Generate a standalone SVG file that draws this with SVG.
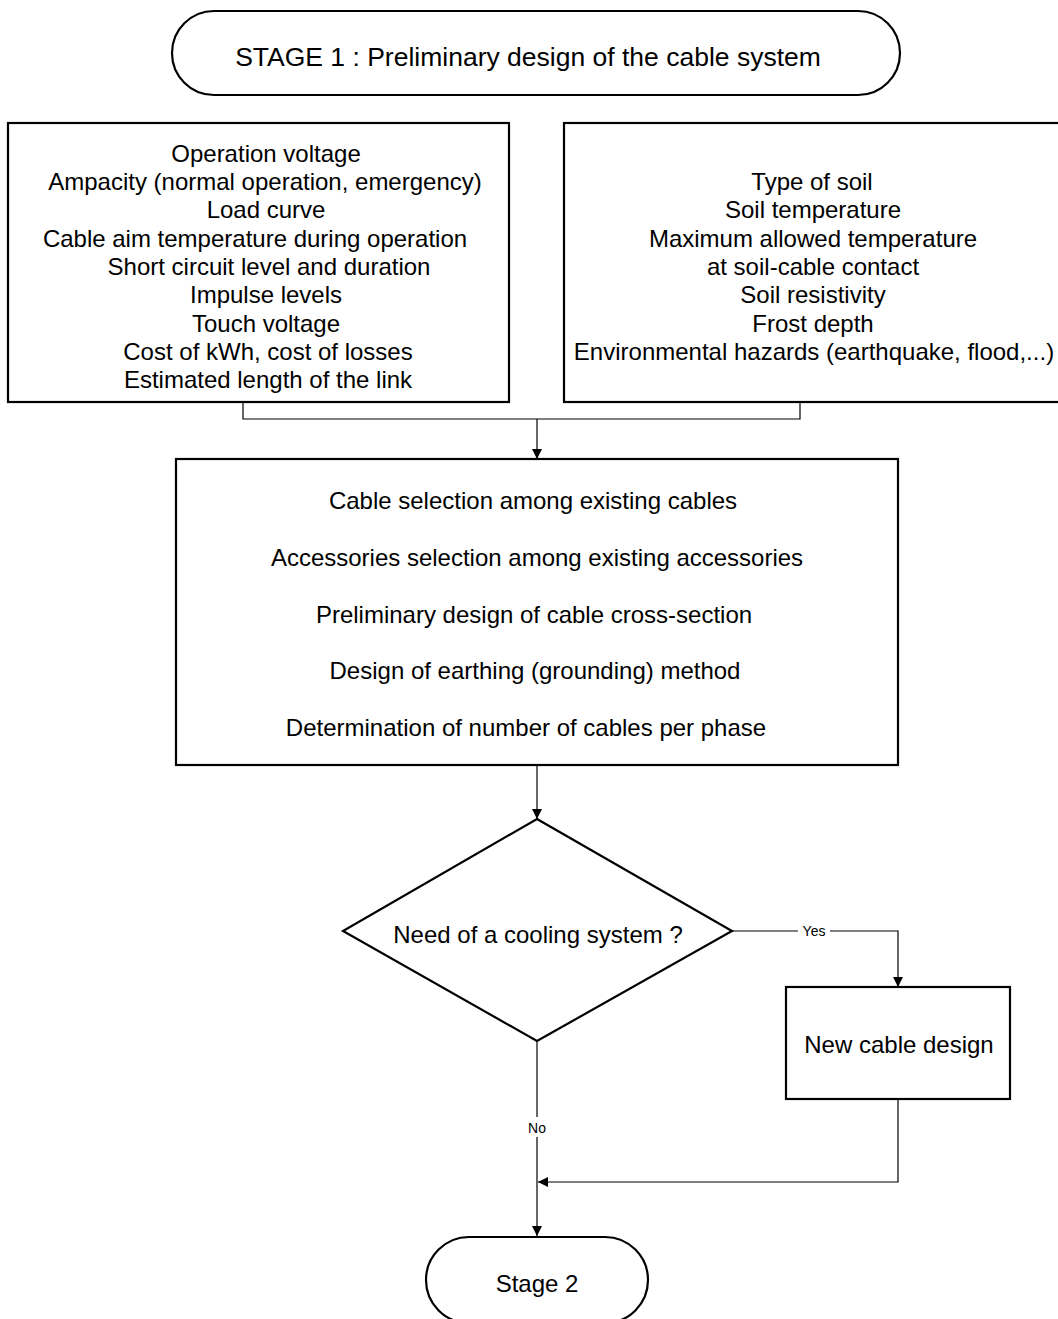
<svg xmlns="http://www.w3.org/2000/svg" width="1058" height="1319" viewBox="0 0 1058 1319">
  <defs>
    <style>
      .shape { fill: #ffffff; stroke: #000000; stroke-width: 2.2; }
      .wire { fill: none; stroke: #000000; stroke-width: 1.2; }
      .txt { font-family: "Liberation Sans", Arial, sans-serif; font-size: 24px; fill: #000000; text-anchor: middle; }
      .title { font-size: 26.5px; }
      .lbl { font-family: "Liberation Sans", Arial, sans-serif; font-size: 14px; fill: #000000; text-anchor: middle; }
    </style>
    <marker id="arrow" viewBox="0 0 10 10" refX="10" refY="5" markerWidth="10" markerHeight="10" markerUnits="userSpaceOnUse" orient="auto">
      <path d="M0,0 L10,5 L0,10 Z" fill="#000000"/>
    </marker>
  </defs>
  <rect width="1058" height="1319" fill="#ffffff"/>

  <!-- connectors -->
  <g id="connectors">
    <polyline class="wire" points="243,402 243,419 800,419 800,402"/>
    <line class="wire" x1="537" y1="419" x2="537" y2="459" marker-end="url(#arrow)"/>
    <line class="wire" x1="537" y1="765" x2="537" y2="819" marker-end="url(#arrow)"/>
    <polyline class="wire" points="732,931 898,931 898,987" marker-end="url(#arrow)"/>
    <rect x="798" y="924" width="32" height="14" fill="#ffffff"/>
    <text class="lbl" x="814" y="936">Yes</text>
    <line class="wire" x1="537" y1="1041" x2="537" y2="1236" marker-end="url(#arrow)"/>
    <rect x="524" y="1117" width="26" height="20" fill="#ffffff"/>
    <text class="lbl" x="537" y="1133">No</text>
    <polyline class="wire" points="898,1099 898,1182 538,1182" marker-end="url(#arrow)"/>
  </g>

  <!-- stage 1 terminator -->
  <g id="stage1">
    <rect class="shape" x="172" y="11" width="728" height="84" rx="42" ry="42"/>
    <text class="txt title" x="528" y="66">STAGE 1 : Preliminary design of the cable system</text>
  </g>

  <!-- electrical input data -->
  <g id="electrical-data">
    <rect class="shape" x="8" y="123" width="501" height="279"/>
    <text class="txt" x="266" y="162">Operation voltage</text>
    <text class="txt" x="265" y="190">Ampacity (normal operation, emergency)</text>
    <text class="txt" x="266" y="218">Load curve</text>
    <text class="txt" x="255" y="247">Cable aim temperature during operation</text>
    <text class="txt" x="269" y="275">Short circuit level and duration</text>
    <text class="txt" x="266" y="303">Impulse levels</text>
    <text class="txt" x="266" y="332">Touch voltage</text>
    <text class="txt" x="268" y="360">Cost of kWh, cost of losses</text>
    <text class="txt" x="268" y="388">Estimated length of the link</text>
  </g>

  <!-- environmental input data -->
  <g id="environment-data">
    <rect class="shape" x="564" y="123" width="500" height="279"/>
    <text class="txt" x="812" y="190">Type of soil</text>
    <text class="txt" x="813" y="218">Soil temperature</text>
    <text class="txt" x="813" y="247">Maximum allowed temperature</text>
    <text class="txt" x="813" y="275">at soil-cable contact</text>
    <text class="txt" x="813" y="303">Soil resistivity</text>
    <text class="txt" x="813" y="332">Frost depth</text>
    <text class="txt" x="814" y="360">Environmental hazards (earthquake, flood,...)</text>
  </g>

  <!-- selection and design steps -->
  <g id="design-steps">
    <rect class="shape" x="176" y="459" width="722" height="306"/>
    <text class="txt" x="533" y="509">Cable selection among existing cables</text>
    <text class="txt" x="537" y="566">Accessories selection among existing accessories</text>
    <text class="txt" x="534" y="623">Preliminary design of cable cross-section</text>
    <text class="txt" x="535" y="679">Design of earthing (grounding) method</text>
    <text class="txt" x="526" y="736">Determination of number of cables per phase</text>
  </g>

  <!-- cooling decision -->
  <g id="cooling-decision">
    <polygon class="shape" points="537,819 732,931 537,1041 343,931"/>
    <text class="txt" x="538" y="943">Need of a cooling system ?</text>
  </g>

  <!-- new cable design -->
  <g id="new-cable-design">
    <rect class="shape" x="786" y="987" width="224" height="112"/>
    <text class="txt" x="899" y="1053">New cable design</text>
  </g>

  <!-- stage 2 terminator -->
  <g id="stage2">
    <rect class="shape" x="426" y="1237" width="222" height="86" rx="43" ry="43"/>
    <text class="txt" x="537" y="1292">Stage 2</text>
  </g>
</svg>
